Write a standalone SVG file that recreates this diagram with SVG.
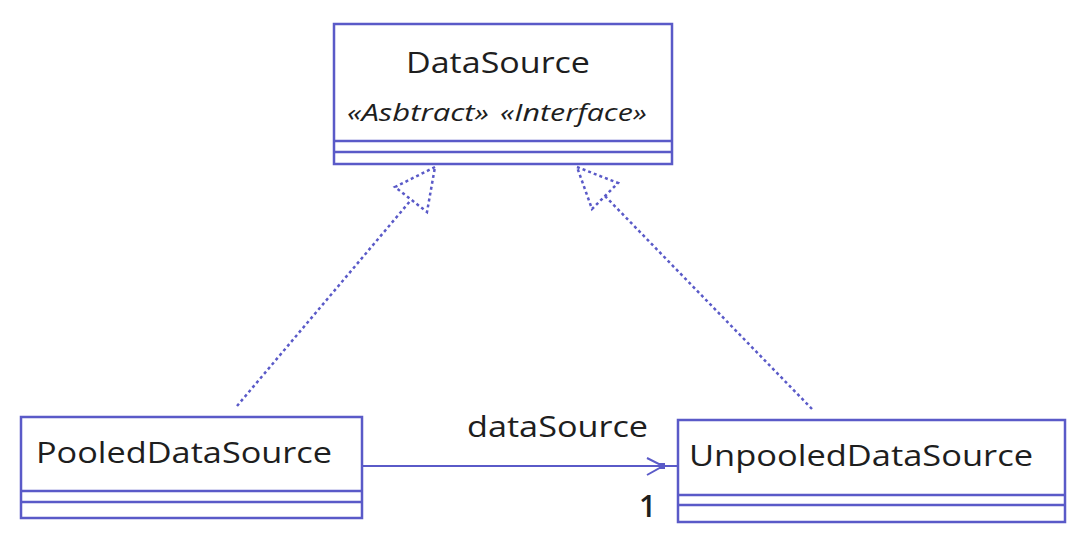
<svg xmlns="http://www.w3.org/2000/svg" width="1092" height="550" viewBox="0 0 1092 550">
<style>
.box{fill:#fff;stroke:#5a5ac8;stroke-width:2.5}
.div{stroke:#5a5ac8;stroke-width:2.5}
.t{font-family:"Open Sans","Noto Sans","DejaVu Sans",sans-serif;fill:#1e1e1e}
.dash{fill:none;stroke:#5a5ac8;stroke-width:2.5;stroke-dasharray:3 3}
.solid{fill:none;stroke:#5a5ac8;stroke-width:2}
</style>
<rect width="1092" height="550" fill="#fff"/>
<g id="DataSource">
<rect class="box" x="334" y="24" width="338" height="140"/>
<line class="div" x1="334" y1="141" x2="672" y2="141"/>
<line class="div" x1="334" y1="152" x2="672" y2="152"/>
<text class="t" x="498" y="73" font-size="29" text-anchor="middle" textLength="184" lengthAdjust="spacingAndGlyphs">DataSource</text>
<text class="t" x="347" y="121" font-size="23" font-style="italic" textLength="142" lengthAdjust="spacingAndGlyphs">«Asbtract»</text>
<text class="t" x="500" y="121" font-size="23" font-style="italic" textLength="147" lengthAdjust="spacingAndGlyphs">«Interface»</text>
</g>
<g id="PooledDataSource">
<rect class="box" x="21" y="417" width="341" height="101"/>
<line class="div" x1="21" y1="491" x2="362" y2="491"/>
<line class="div" x1="21" y1="502" x2="362" y2="502"/>
<text class="t" x="36" y="463" font-size="29" textLength="296" lengthAdjust="spacingAndGlyphs">PooledDataSource</text>
</g>
<g id="UnpooledDataSource">
<rect class="box" x="678" y="420" width="387" height="102"/>
<line class="div" x1="678" y1="495" x2="1065" y2="495"/>
<line class="div" x1="678" y1="505" x2="1065" y2="505"/>
<text class="t" x="689" y="466" font-size="29" textLength="344" lengthAdjust="spacingAndGlyphs">UnpooledDataSource</text>
</g>
<g id="connectors">
<path class="dash" d="M237,406 L411,200"/>
<path class="dash" d="M435,167 L395,187 L427,212 Z"/>
<path class="dash" d="M812,409 L605,196"/>
<path class="dash" d="M577,167 L618,183 L592,209 Z"/>
<path class="solid" d="M362,466 L678,466"/>
<path class="solid" d="M647,458 L663,466 L647,475"/>
<rect x="659" y="463" width="6" height="6" fill="#5a5ac8"/>
<text class="t" x="467" y="437" font-size="29" textLength="181" lengthAdjust="spacingAndGlyphs">dataSource</text>
<text class="t" x="639" y="517" font-size="30" font-weight="600">1</text>
</g>
</svg>
